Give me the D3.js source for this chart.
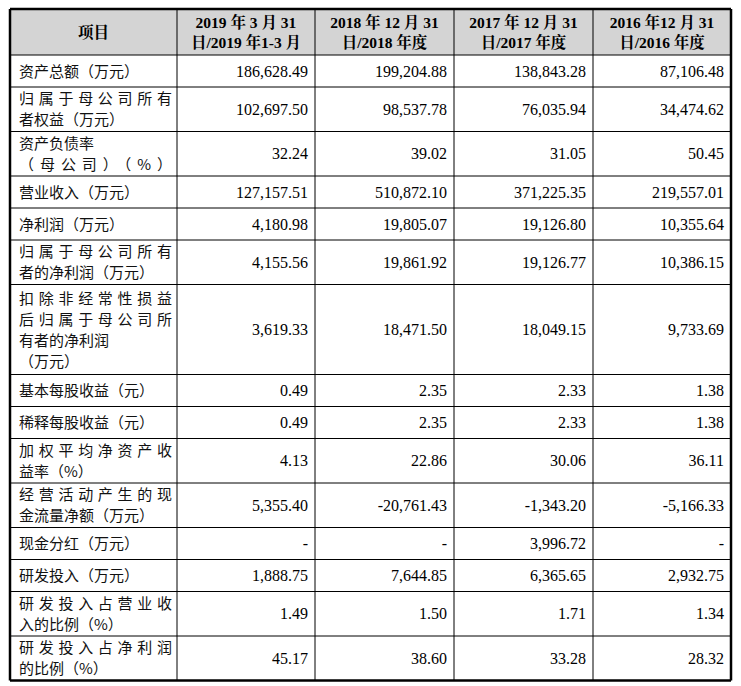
<!DOCTYPE html><html><head><meta charset="utf-8">
<script src="https://cdn.jsdelivr.net/npm/d3@7"></script>
<style>body{margin:0;background:#fff}</style></head><body><svg id="c" width="741" height="686"></svg>
<script>
const headers=[["项目"],["2019 年 3 月 31","日/2019 年1-3 月"],["2018 年 12 月 31","日/2018 年度"],["2017 年 12 月 31","日/2017 年度"],["2016 年12 月 31","日/2016 年度"]];
const labels=[["资产总额（万元）"],["归属于母公司所有","者权益（万元）"],["资产负债率","（母公司）（%）"],["营业收入（万元）"],["净利润（万元）"],["归属于母公司所有","者的净利润（万元）"],["扣除非经常性损益","后归属于母公司所","有者的净利润","（万元）"],["基本每股收益（元）"],["稀释每股收益（元）"],["加权平均净资产收","益率（%）"],["经营活动产生的现","金流量净额（万元）"],["现金分红（万元）"],["研发投入（万元）"],["研发投入占营业收","入的比例（%）"],["研发投入占净利润","的比例（%）"]];
const v2019=["186,628.49","102,697.50","32.24","127,157.51","4,180.98","4,155.56","3,619.33","0.49","0.49","4.13","5,355.40","-","1,888.75","1.49","45.17"];
const v2018=["199,204.88","98,537.78","39.02","510,872.10","19,805.07","19,861.92","18,471.50","2.35","2.35","22.86","-20,761.43","-","7,644.85","1.50","38.60"];
const v2017=["138,843.28","76,035.94","31.05","371,225.35","19,126.80","19,126.77","18,049.15","2.33","2.33","30.06","-1,343.20","3,996.72","6,365.65","1.71","33.28"];
const v2016=["87,106.48","34,474.62","50.45","219,557.01","10,355.64","10,386.15","9,733.69","1.38","1.38","36.11","-5,166.33","-","2,932.75","1.34","28.32"];
const cols=[v2019,v2018,v2017,v2016];
const svg=d3.select("#c");
const xs=[10,177,315,454,593,731];
const hh=46,y0=9;
const rh=labels.map(l=>l.length===1?32:l.length===2?44.5:90);
const ys=[y0,y0+hh];rh.forEach(h=>ys.push(ys[ys.length-1]+h));
const serif="'Liberation Serif','Noto Serif CJK SC','Noto Sans CJK SC',serif";
const cjk="'Noto Sans CJK SC',sans-serif";
svg.append("rect").attr("x",xs[0]).attr("y",y0).attr("width",xs[5]-xs[0]).attr("height",hh).attr("fill","#d4d4d4");
svg.selectAll("line.h").data(ys).join("line").attr("class","h").attr("x1",xs[0]).attr("x2",xs[5]).attr("y1",d=>d).attr("y2",d=>d).attr("stroke","#000").attr("stroke-width",(d,i)=>i===0||i===ys.length-1?2.5:1);
svg.selectAll("line.v").data(xs).join("line").attr("class","v").attr("y1",ys[0]).attr("y2",ys[ys.length-1]).attr("x1",d=>d).attr("x2",d=>d).attr("stroke","#000").attr("stroke-width",(d,i)=>i===0||i===5?2.5:1);
headers.forEach((h,i)=>{const cx=(xs[i]+xs[i+1])/2;
 h.forEach((t,j)=>svg.append("text").attr("x",cx).attr("y",y0+hh/2+(j-(h.length-1)/2)*20+5.5).attr("text-anchor","middle").attr("font-family",serif).attr("font-weight","bold").attr("font-size",15.5).text(t));});
labels.forEach((l,i)=>{const cy=(ys[i+1]+ys[i+2])/2;
 l.forEach((t,j)=>{const tx=svg.append("text").attr("x",19).attr("y",cy+(j-(l.length-1)/2)*21+5.5).attr("font-family",cjk).attr("font-size",15).attr("fill","#111").text(t);
  if(l.length>1&&t.length===8)tx.attr("textLength",153).attr("lengthAdjust","spacing");});});
cols.forEach((c,k)=>c.forEach((v,i)=>{const cy=(ys[i+1]+ys[i+2])/2;
 svg.append("text").attr("x",xs[k+2]-7).attr("y",cy+5.5).attr("text-anchor","end").attr("font-family",serif).attr("font-size",16).text(v);}));
</script></body></html>
